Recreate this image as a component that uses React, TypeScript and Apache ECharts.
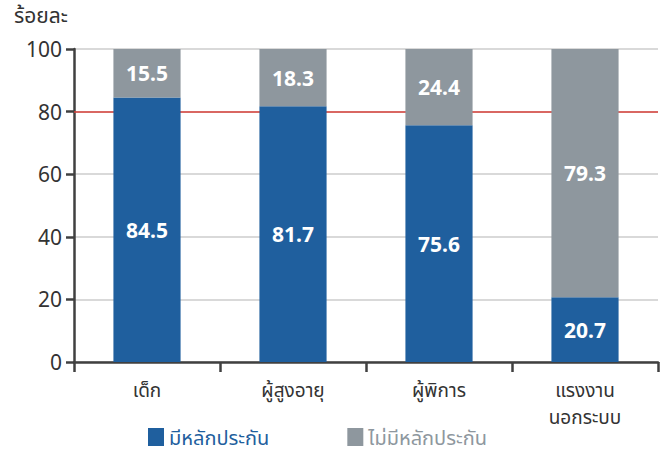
import React, { useEffect, useRef } from "react";
import * as echarts from "echarts";

const categories = ["เด็ก", "ผู้สูงอายุ", "ผู้พิการ", "แรงงาน\nนอกระบบ"];
const insured = [84.5, 81.7, 75.6, 20.7];
const uninsured = [15.5, 18.3, 24.4, 79.3];
const seriesNames = ["มีหลักประกัน", "ไม่มีหลักประกัน"];
const yTicks = [0, 20, 40, 60, 80, 100];
const threshold = 80;

const FONT = "'Noto Sans', 'Noto Sans Thai', sans-serif";

export default function App() {
  const ref = useRef<HTMLDivElement>(null);
  useEffect(() => {
    if (!ref.current) return;
    const chart = echarts.init(ref.current, undefined, { renderer: "svg" });
    const barLabel = {
      show: true,
      position: "inside" as const,
      color: "#ffffff",
      fontSize: 21,
      fontWeight: "bold" as const,
      fontFamily: FONT,
    };
    chart.setOption({
      animation: false,
      textStyle: { fontFamily: FONT },
      grid: { left: 74, right: 6, top: 49, bottom: 88 },
      graphic: [
        {
          type: "text",
          left: 14,
          top: 4,
          style: { text: "ร้อยละ", fontSize: 21, fill: "#333333", fontFamily: FONT },
        },
      ],
      legend: {
        top: 422,
        left: 143,
        itemGap: 78,
        itemWidth: 16,
        itemHeight: 18,
        icon: "rect",
        textStyle: { fontSize: 20, fontFamily: FONT },
        data: [
          { name: seriesNames[0], textStyle: { color: "#1f5f9e" } },
          { name: seriesNames[1], textStyle: { color: "#8e979e" } },
        ],
      },
      xAxis: {
        type: "category",
        data: categories,
        axisLine: { lineStyle: { color: "#404040", width: 2.5 } },
        axisTick: { show: true, length: 10, lineStyle: { color: "#404040", width: 2.5 } },
        axisLabel: { color: "#333333", fontSize: 19, margin: 14, lineHeight: 27, fontFamily: FONT },
      },
      yAxis: {
        type: "value",
        min: yTicks[0],
        max: yTicks[yTicks.length - 1],
        interval: 20,
        axisLine: { show: true, lineStyle: { color: "#404040", width: 2.5 } },
        axisTick: { show: true, length: 8, lineStyle: { color: "#404040", width: 2.5 } },
        axisLabel: { color: "#333333", fontSize: 21, margin: 12, fontFamily: FONT },
        splitLine: { lineStyle: { color: "#cccccc", width: 1.5 } },
      },
      series: [
        {
          name: seriesNames[0],
          type: "bar",
          stack: "total",
          barWidth: "46%",
          data: insured,
          itemStyle: { color: "#1f5f9e" },
          label: { ...barLabel, formatter: (p: any) => p.value.toFixed(1) },
          markLine: {
            silent: true,
            symbol: "none",
            label: { show: false },
            lineStyle: { color: "#d9413a", width: 1.5, type: "solid" },
            data: [{ yAxis: threshold }],
            z: 1,
          },
          z: 3,
        },
        {
          name: seriesNames[1],
          type: "bar",
          stack: "total",
          barWidth: "46%",
          data: uninsured,
          itemStyle: { color: "#8e979e" },
          label: { ...barLabel, formatter: (p: any) => p.value.toFixed(1) },
          z: 3,
        },
      ],
    });
    return () => chart.dispose();
  }, []);
  return <div ref={ref} style={{ width: 664, height: 450, position: "absolute", left: 0, top: 0 }} />;
}
